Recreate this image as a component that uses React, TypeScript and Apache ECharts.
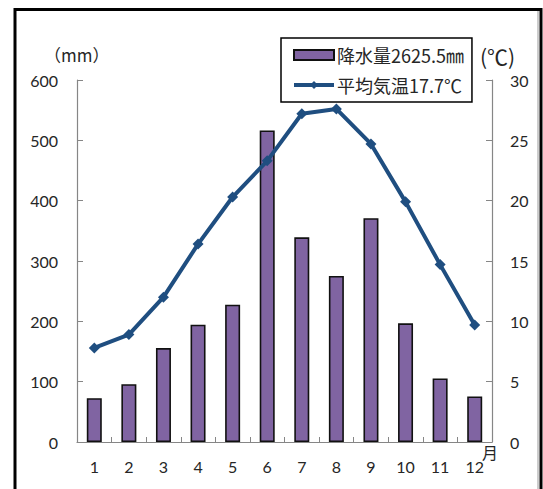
import React, { useEffect, useRef } from "react";
import * as echarts from "echarts";

const months = ["1", "2", "3", "4", "5", "6", "7", "8", "9", "10", "11", "12"];
const precipitation = [72.7, 95.8, 155.7, 194.5, 227.6, 516.3, 339.3, 275.3, 370.9, 196.7, 105.3, 75.4];
const temperature = [7.8, 8.9, 12.0, 16.4, 20.3, 23.3, 27.2, 27.6, 24.7, 19.9, 14.7, 9.7];
const precipName = "降水量2625.5㎜";
const tempName = "平均気温17.7℃";
const leftTitle = "（mm）";
const rightTitle = "(℃)";
const monthUnit = "月";

const FONT = 'Lato, "Noto Sans CJK JP", sans-serif';
const CJK = '"Noto Sans CJK JP", Lato, sans-serif';
const AXIS_GRAY = "#868686";
const TEXT = "#262626";
const LINE = "#1F4E80";

export default function App() {
  const ref = useRef<HTMLDivElement>(null);
  useEffect(() => {
    if (!ref.current) return;
    const chart = echarts.init(ref.current, undefined, { renderer: "svg" });
    chart.setOption({
      animation: false,
      backgroundColor: "#ffffff",
      grid: { left: 77, right: 51, top: 80, bottom: 47 },
      legend: {
        orient: "vertical",
        left: 281,
        top: 38,
        borderColor: "#000",
        borderWidth: 1.5,
        padding: [8, 8, 8, 11],
        itemGap: 12,
        itemWidth: 40,
        itemHeight: 10,
        textStyle: { fontFamily: CJK, fontSize: 18, color: TEXT, padding: [0, 0, 0, -2] },
        data: [
          { name: precipName, icon: "rect" },
          { name: tempName, lineStyle: { width: 4, color: LINE } },
        ],
      },
      xAxis: {
        type: "category",
        data: months,
        axisLine: { lineStyle: { color: AXIS_GRAY, width: 1.2 } },
        axisTick: { show: true, inside: true, length: 5, lineStyle: { color: AXIS_GRAY } },
        axisLabel: { margin: 16, fontSize: 16, color: TEXT, fontFamily: FONT },
        splitLine: { show: false },
      },
      yAxis: [
        {
          type: "value",
          min: 0,
          max: 600,
          interval: 100,
          axisLine: { show: true, lineStyle: { color: AXIS_GRAY, width: 1.2 } },
          axisTick: { show: true, inside: true, length: 6, lineStyle: { color: AXIS_GRAY } },
          axisLabel: { margin: 19, fontSize: 16, color: TEXT, fontFamily: FONT },
          splitLine: { show: false },
        },
        {
          type: "value",
          min: 0,
          max: 30,
          interval: 5,
          position: "right",
          axisLine: { show: true, lineStyle: { color: AXIS_GRAY, width: 1.2 } },
          axisTick: { show: true, inside: true, length: 6, lineStyle: { color: AXIS_GRAY } },
          axisLabel: { margin: 18, fontSize: 16, color: TEXT, fontFamily: FONT },
          splitLine: { show: false },
        },
      ],
      series: [
        {
          name: precipName,
          type: "bar",
          data: precipitation,
          barWidth: 15,
          itemStyle: { color: "#8064A2", borderColor: "#111", borderWidth: 1.6 },
          z: 2,
        },
        {
          name: tempName,
          type: "line",
          yAxisIndex: 1,
          data: temperature,
          symbol: "diamond",
          symbolSize: 11,
          color: LINE,
          lineStyle: { width: 4, color: LINE },
          itemStyle: { color: LINE },
          z: 3,
        },
      ],
      graphic: [
        {
          type: "text",
          left: 44,
          top: 46,
          style: { text: leftTitle, fontFamily: CJK, fontSize: 17, fill: TEXT },
        },
        {
          type: "text",
          left: 480,
          top: 45,
          style: { text: rightTitle, fontFamily: CJK, fontSize: 21, fill: TEXT },
        },
        {
          type: "text",
          left: 482,
          top: 444,
          style: { text: monthUnit, fontFamily: CJK, fontSize: 16, fill: TEXT },
        },
        {
          type: "line",
          shape: { x1: 538, y1: 11, x2: 538, y2: 489 },
          style: { stroke: "#9a9a9a", lineWidth: 1 },
        },
        {
          type: "rect",
          shape: { x: 15, y: 9.5, width: 526, height: 520 },
          style: { fill: "none", stroke: "#000", lineWidth: 3 },
        },
      ],
    });
    return () => chart.dispose();
  }, []);
  return (
    <div
      ref={ref}
      style={{ position: "fixed", left: 0, top: 0, width: 543, height: 489 }}
    />
  );
}
